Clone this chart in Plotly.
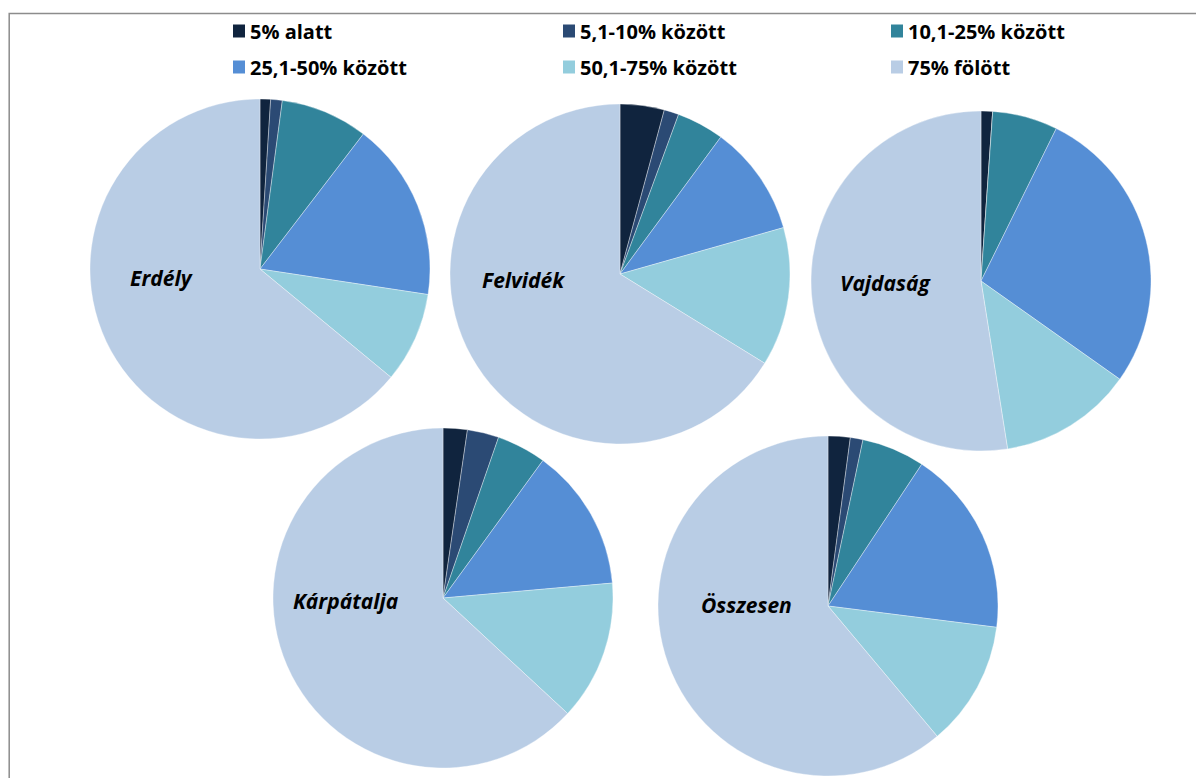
import plotly.graph_objects as go

categories = ["5% alatt", "5,1-10% között", "10,1-25% között",
              "25,1-50% között", "50,1-75% között", "75% fölött"]
colors = ["#10243E", "#2B4A74", "#31849B", "#558ED5", "#93CDDD", "#B9CDE5"]

regions = ["Erdély", "Felvidék", "Vajdaság", "Kárpátalja", "Összesen"]
erdely = [1.0, 1.1, 8.3, 17.0, 8.6, 64.0]
felvidek = [4.2, 1.4, 4.5, 10.5, 13.2, 66.2]
vajdasag = [1.1, 0.0, 6.2, 27.5, 12.7, 52.5]
karpatalja = [2.3, 3.0, 4.7, 13.6, 13.3, 63.1]
osszesen = [2.1, 1.2, 6.0, 17.7, 11.9, 61.1]
series = [erdely, felvidek, vajdasag, karpatalja, osszesen]

W, H = 1204, 778
OX, OY = 8, 7  # page offset of the plot inside the browser window
# pie centres (px, in window coordinates) and radius
centres = [(260, 268), (620, 273), (981, 280), (443, 597), (828, 605)]
R = 170
label_pos = [(161, 277), (523, 279), (885, 282), (346, 600), (746, 604)]


def px(x):
    return (x - OX) / W


def py(y):
    return 1 - (y - OY) / H


fig = go.Figure()
for name, vals, (cx, cy) in zip(regions, series, centres):
    fig.add_trace(go.Pie(
        labels=categories, values=vals, name=name,
        sort=False, direction="clockwise", rotation=0,
        marker=dict(colors=colors, line=dict(color="rgba(255,255,255,0.6)", width=0.6)),
        textinfo="none", hoverinfo="label+value+name",
        showlegend=False,
        domain=dict(x=[px(cx - R), px(cx + R)],
                    y=[py(cy + R), py(cy - R)]),
    ))

annotations = []
for name, (lx, ly) in zip(regions, label_pos):
    annotations.append(dict(
        x=px(lx), y=py(ly), xref="paper", yref="paper",
        text="<b><i>" + name + "</i></b>", showarrow=False,
        xanchor="center", yanchor="middle",
        font=dict(family="Open Sans, Lato, sans-serif", size=21, color="#000000"),
    ))

shapes = []
leg_cols = [233, 563, 891]
leg_rows = [30, 66]
for i, (cat, col) in enumerate(zip(categories, colors)):
    sx = leg_cols[i % 3]
    sy = leg_rows[i // 3]
    shapes.append(dict(type="rect", xref="paper", yref="paper",
                       x0=px(sx), x1=px(sx + 12),
                       y0=py(sy + 6.5), y1=py(sy - 6.5),
                       fillcolor=col, line=dict(width=0)))
    annotations.append(dict(
        x=px(sx + 15), y=py(sy), xref="paper", yref="paper",
        text="<b>" + cat + "</b>", showarrow=False,
        xanchor="left", yanchor="middle",
        font=dict(family="Open Sans, Lato, sans-serif", size=20, color="#000000"),
    ))

# outer chart border
shapes.append(dict(type="rect", xref="paper", yref="paper",
                   x0=1.2 / W, x1=1.05, y0=-0.05, y1=py(12.5),
                   line=dict(color="#8C8C8C", width=1.5), fillcolor="rgba(0,0,0,0)"))

fig.update_layout(
    width=W, height=H,
    margin=dict(l=0, r=0, t=0, b=0),
    paper_bgcolor="white", plot_bgcolor="white",
    annotations=annotations, shapes=shapes,
    showlegend=False,
)

fig.write_html("out.html")
